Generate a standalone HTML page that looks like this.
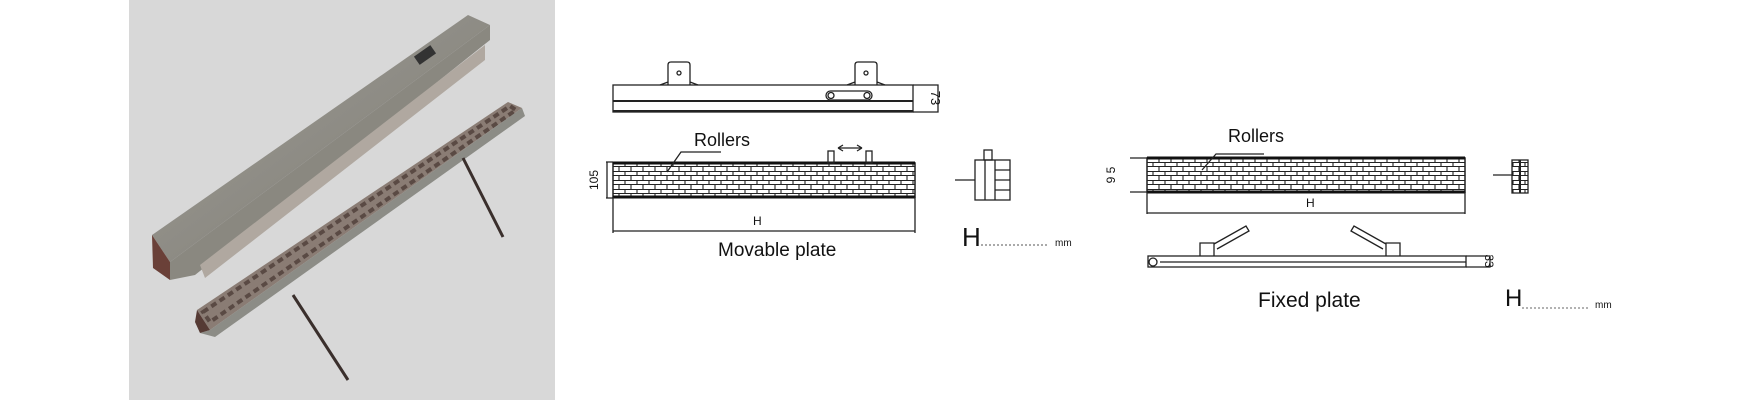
<!DOCTYPE html>
<html><head><meta charset="utf-8"><style>
html,body{margin:0;padding:0;background:#fff;}
svg{display:block;}
text{font-family:"Liberation Sans",sans-serif;fill:#111;}
</style></head><body>
<svg width="1750" height="400" viewBox="0 0 1750 400" xmlns="http://www.w3.org/2000/svg">
<defs>
<pattern id="brick" width="12" height="9" patternUnits="userSpaceOnUse">
<rect width="12" height="9" fill="#fff"/>
<path d="M0 0.5H12M0 4.5H12M1 0V4.5M7 4.5V9" stroke="#222" stroke-width="1.1" fill="none"/>
</pattern>
<linearGradient id="bar1" x1="0" y1="0" x2="1" y2="1">
<stop offset="0" stop-color="#a09e96"/><stop offset="1" stop-color="#7c7a74"/>
</linearGradient>
</defs>
<!-- photo panel -->
<rect x="129" y="0" width="426" height="400" fill="#d8d8d8"/>
<!-- upper bar -->
<polygon points="152,235 468,15 490,25 170,262" fill="url(#bar1)"/>
<polygon points="152,235 170,262 170,280 153,268" fill="#6a4038"/>
<polygon points="170,262 490,25 490,40 195,275 170,280" fill="#8a8880"/>
<polygon points="200,265 485,45 485,60 205,278" fill="#b0a8a0"/>
<rect x="415" y="50" width="20" height="10" fill="#333" transform="rotate(-35 425 55)"/>
<!-- lower roller plate -->
<polygon points="197,310 508,102 522,108 210,330" fill="#8a7c74"/>
<polygon points="203,312 510,106 516,110 210,322" fill="none" stroke="#5a4a44" stroke-width="4" stroke-dasharray="6 4"/>
<polygon points="210,330 522,108 525,116 215,337 200,333" fill="#8c8c86"/>
<polygon points="197,310 210,330 200,333 195,322" fill="#553a34"/>
<line x1="463" y1="158" x2="503" y2="237" stroke="#3a2f2c" stroke-width="3"/>
<line x1="293" y1="295" x2="348" y2="380" stroke="#3a2f2c" stroke-width="3"/>

<!-- Movable plate: top bar -->
<g stroke="#222" fill="none" stroke-width="1.3">
<path d="M668 85V65q0-3 3-3h16q3 0 3 3v20M660 85l8-3M690 82l8 3"/>
<circle cx="679" cy="73" r="2"/>
<path d="M855 85V65q0-3 3-3h16q3 0 3 3v20M847 85l8-3M877 82l8 3"/>
<circle cx="866" cy="73" r="2"/>
<rect x="613" y="85" width="300" height="27"/>
<line x1="613" y1="101" x2="913" y2="101" stroke-width="2"/>
<line x1="613" y1="111" x2="913" y2="111" stroke-width="2"/>
<path d="M913 85H938V112H913"/>
<rect x="826" y="91" width="46" height="9" rx="4.5"/>
<circle cx="831" cy="95.5" r="3"/><circle cx="867" cy="95.5" r="3"/>
</g>
<text x="931" y="98" font-size="13" transform="rotate(90 931 98)" text-anchor="middle">73</text>
<!-- movable rollers -->
<rect x="613" y="163" width="302" height="34" fill="url(#brick)" stroke="#222" stroke-width="1.5"/>
<line x1="613" y1="163" x2="915" y2="163" stroke="#111" stroke-width="3"/>
<line x1="613" y1="197" x2="915" y2="197" stroke="#111" stroke-width="3"/>
<g stroke="#222" fill="none" stroke-width="1.3">
<rect x="828" y="151" width="6" height="12"/><rect x="866" y="151" width="6" height="12"/>
<path d="M838 148H862M838 148l5-3M838 148l5 3M862 148l-5-3M862 148l-5 3"/>
<path d="M606 162H613M606 198H613M607 162V198"/>
<path d="M613 197V233M915 197V233M613 231H915"/>
<path d="M667 172l14-20h40"/>
<line x1="955" y1="180" x2="975" y2="180"/>
<rect x="975" y="160" width="35" height="40"/>
<rect x="984" y="150" width="8" height="10"/>
<line x1="995" y1="160" x2="995" y2="200"/>
<line x1="985" y1="160" x2="985" y2="200"/>
<path d="M995 170H1010M995 180H1010M995 190H1010"/>
</g>
<text x="598" y="180" font-size="12" transform="rotate(-90 598 180)" text-anchor="middle">105</text>
<text x="694" y="146" font-size="18">Rollers</text>
<text x="753" y="225" font-size="12">H</text>
<text x="718" y="256" font-size="19">Movable plate</text>
<text x="962" y="246" font-size="26">H</text>
<line x1="981" y1="245" x2="1048" y2="245" stroke="#555" stroke-width="1" stroke-dasharray="2 2"/>
<text x="1055" y="246" font-size="10">mm</text>

<!-- Fixed plate rollers -->
<rect x="1147" y="158" width="318" height="34" fill="url(#brick)" stroke="#222" stroke-width="1.5"/>
<line x1="1147" y1="158" x2="1465" y2="158" stroke="#111" stroke-width="3"/>
<line x1="1147" y1="192" x2="1465" y2="192" stroke="#111" stroke-width="3"/>
<g stroke="#222" fill="none" stroke-width="1.3">
<path d="M1130 158H1147M1130 192H1147"/>
<path d="M1147 192V214M1465 192V214M1147 213H1465"/>
<path d="M1202 170l14-16h48"/>
<line x1="1493" y1="175" x2="1512" y2="175"/>
<rect x="1512" y="160" width="16" height="33" fill="url(#brick)"/>
<path d="M1520 160V193" stroke-width="2"/>
<!-- fixed bottom bar -->
<rect x="1148" y="256" width="318" height="11"/>
<line x1="1160" y1="262" x2="1466" y2="262"/>
<path d="M1466 256H1490V267H1466"/>
<path d="M1200 256V243h14v13M1214 244l32-18l3 5l-32 18"/>
<path d="M1400 256V243h-14v13M1386 244l-32-18l-3 5l32 18"/>
<circle cx="1153" cy="262" r="4"/>
</g>
<text x="1115" y="175" font-size="12" transform="rotate(-90 1115 175)" text-anchor="middle">9 5</text>
<text x="1228" y="142" font-size="18">Rollers</text>
<text x="1306" y="207" font-size="12">H</text>
<text x="1485" y="261" font-size="12" transform="rotate(90 1485 261)" text-anchor="middle">33</text>
<text x="1258" y="307" font-size="21">Fixed plate</text>
<text x="1505" y="306" font-size="24">H</text>
<line x1="1522" y1="308" x2="1588" y2="308" stroke="#666" stroke-width="1" stroke-dasharray="2 2"/>
<text x="1595" y="308" font-size="10">mm</text>
</svg>
</body></html>
